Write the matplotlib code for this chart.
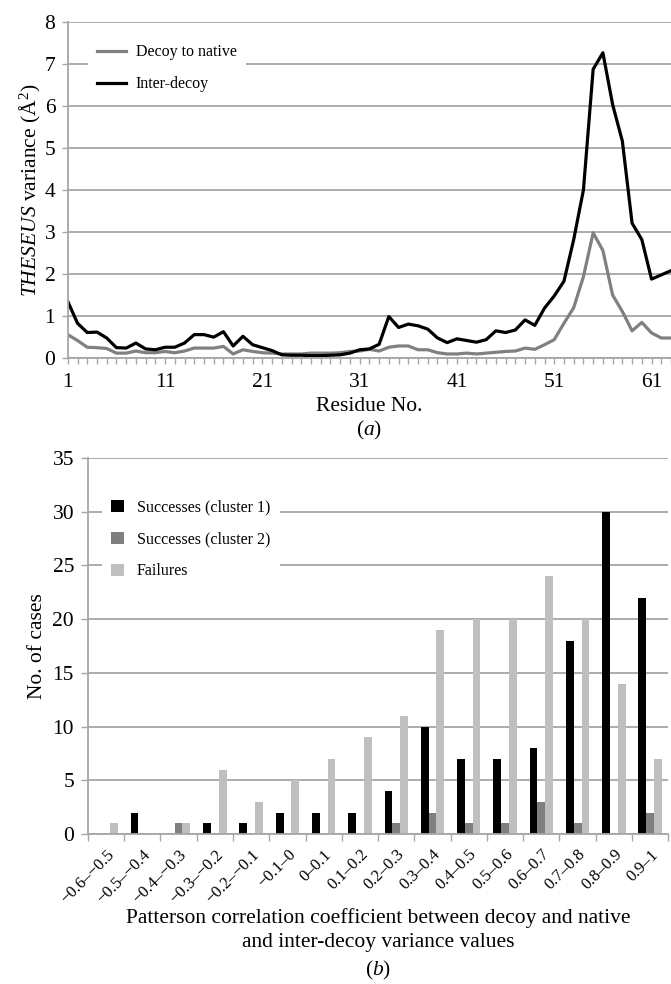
import matplotlib
matplotlib.use('Agg')
import matplotlib.pyplot as plt
import numpy as np

plt.rcParams['font.family'] = ['Liberation Serif', 'DejaVu Serif']
plt.rcParams['mathtext.fontset'] = 'custom'
plt.rcParams['mathtext.rm'] = 'Liberation Serif'
plt.rcParams['mathtext.it'] = 'Liberation Serif:italic'

# (a) per-residue variance, residues 1..63
residues = np.arange(1, 64)
decoy_native = [0.56, 0.42, 0.26, 0.25, 0.23, 0.12, 0.12, 0.17, 0.13, 0.13,
                0.16, 0.13, 0.17, 0.24, 0.24, 0.24, 0.28, 0.10, 0.20, 0.16,
                0.13, 0.12, 0.10, 0.10, 0.10, 0.12, 0.12, 0.12, 0.13, 0.16,
                0.17, 0.21, 0.17, 0.26, 0.29, 0.29, 0.20, 0.20, 0.13, 0.10,
                0.10, 0.12, 0.10, 0.12, 0.14, 0.16, 0.17, 0.24, 0.21, 0.32,
                0.44, 0.83, 1.20, 1.94, 2.98, 2.56, 1.50, 1.11, 0.65, 0.85,
                0.60, 0.48, 0.48]
inter_decoy = [1.35, 0.83, 0.61, 0.62, 0.48, 0.25, 0.24, 0.36, 0.22, 0.20,
               0.26, 0.26, 0.36, 0.56, 0.56, 0.50, 0.63, 0.29, 0.52, 0.32,
               0.25, 0.18, 0.08, 0.07, 0.07, 0.06, 0.06, 0.07, 0.08, 0.12,
               0.20, 0.22, 0.33, 0.99, 0.73, 0.81, 0.77, 0.69, 0.48, 0.37,
               0.46, 0.42, 0.38, 0.44, 0.65, 0.61, 0.67, 0.91, 0.78, 1.19,
               1.48, 1.83, 2.82, 4.00, 6.87, 7.26, 6.03, 5.16, 3.21, 2.82,
               1.88, 1.98, 2.08]

# (b) histogram of correlation coefficients
bins = ['\u22120.6\u2013\u22120.5', '\u22120.5\u2013\u22120.4', '\u22120.4\u2013\u22120.3',
        '\u22120.3\u2013\u22120.2', '\u22120.2\u2013\u22120.1', '\u22120.1\u20130',
        '0\u20130.1', '0.1\u20130.2', '0.2\u20130.3', '0.3\u20130.4', '0.4\u20130.5',
        '0.5\u20130.6', '0.6\u20130.7', '0.7\u20130.8', '0.8\u20130.9', '0.9\u20131']
success_c1 = [0, 2, 0, 1, 1, 2, 2, 2, 4, 10, 7, 7, 8, 18, 30, 22]
success_c2 = [0, 0, 1, 0, 0, 0, 0, 0, 1, 2, 1, 1, 3, 1, 0, 2]
failures = [1, 0, 1, 6, 3, 5, 7, 9, 11, 19, 20, 20, 24, 20, 14, 7]

grid_c = '#a6a6a6'
fs = 15.5
fig = plt.figure(figsize=(6.71, 9.84), dpi=100)

# ---- panel a
ax1 = fig.add_axes([0.101, 0.636, 0.899, 0.342])
ax1.plot(residues, decoy_native, color='#808080', lw=2.3, label='Decoy to native')
ax1.plot(residues, inter_decoy, color='black', lw=2.3, label='Inter-decoy')
ax1.set_xlim(1, 62.85)
ax1.set_ylim(0, 8)
ax1.set_yticks(range(0, 9))
ax1.set_xticks(residues)
ax1.set_xticklabels([str(r) if (r - 1) % 10 == 0 else '' for r in residues])
ax1.yaxis.grid(True, color=grid_c, lw=1.3)
ax1.set_axisbelow(True)
for s in ['top', 'right']:
    ax1.spines[s].set_visible(False)
for s in ['left', 'bottom']:
    ax1.spines[s].set_color(grid_c)
    ax1.spines[s].set_linewidth(1.3)
ax1.tick_params(axis='both', direction='out', length=4, color=grid_c, width=1, labelsize=fs)
ax1.tick_params(axis='y', pad=5)
ax1.tick_params(axis='x', pad=7)
ax1.set_ylabel('$\\it{THESEUS}$ variance (\u00c5$^{2}$)', fontsize=fs, labelpad=1)
ax1.set_xlabel('Residue No.\n($\\it{a}$)', fontsize=fs, labelpad=3, linespacing=1.2)
leg1 = ax1.legend(loc='upper left', bbox_to_anchor=(0.02, 0.985), fontsize=11.5,
                  frameon=True, framealpha=1, edgecolor='none', fancybox=False,
                  handlelength=1.8, handletextpad=0.6, labelspacing=1.0, borderpad=0.6)

# ---- panel b
ax2 = fig.add_axes([0.131, 0.1524, 0.865, 0.3822])
x = np.arange(len(bins))
w = 0.215
ax2.bar(x - w, success_c1, w, color='black', label='Successes (cluster 1)')
ax2.bar(x, success_c2, w, color='#7f7f7f', label='Successes (cluster 2)')
ax2.bar(x + w, failures, w, color='#bfbfbf', label='Failures')
ax2.set_xlim(-0.5, len(bins) - 0.5)
ax2.set_ylim(0, 35)
ax2.set_yticks(range(0, 36, 5))
ax2.set_xticks(np.arange(len(bins) + 1) - 0.5)
ax2.set_xticklabels([])
ax2.set_xticks(x, minor=True)
ax2.set_xticklabels(bins, minor=True, rotation=45, ha='right', va='top',
                    rotation_mode='anchor', fontsize=12)
ax2.tick_params(axis='x', which='minor', length=0, pad=9)
ax2.yaxis.grid(True, color=grid_c, lw=1.3)
ax2.set_axisbelow(True)
for s in ['top', 'right']:
    ax2.spines[s].set_visible(False)
for s in ['left', 'bottom']:
    ax2.spines[s].set_color(grid_c)
    ax2.spines[s].set_linewidth(1.3)
ax2.tick_params(axis='both', which='major', direction='out', length=5, color=grid_c,
                width=1, labelsize=fs, pad=5)
ax2.set_ylabel('No. of cases', fontsize=fs, labelpad=4)
ax2.set_xlabel('Patterson correlation coefficient between decoy and native\n'
               'and inter-decoy variance values\n($\\it{b}$)',
               fontsize=fs, labelpad=1, linespacing=1.4)
leg2 = ax2.legend(loc='upper left', bbox_to_anchor=(0.01, 0.937), fontsize=11.5,
                  frameon=True, framealpha=1, edgecolor='none', fancybox=False,
                  handlelength=0.8, handleheight=0.8, labelspacing=1.0, borderpad=0.6)

fig.savefig('out.png', dpi=100)
